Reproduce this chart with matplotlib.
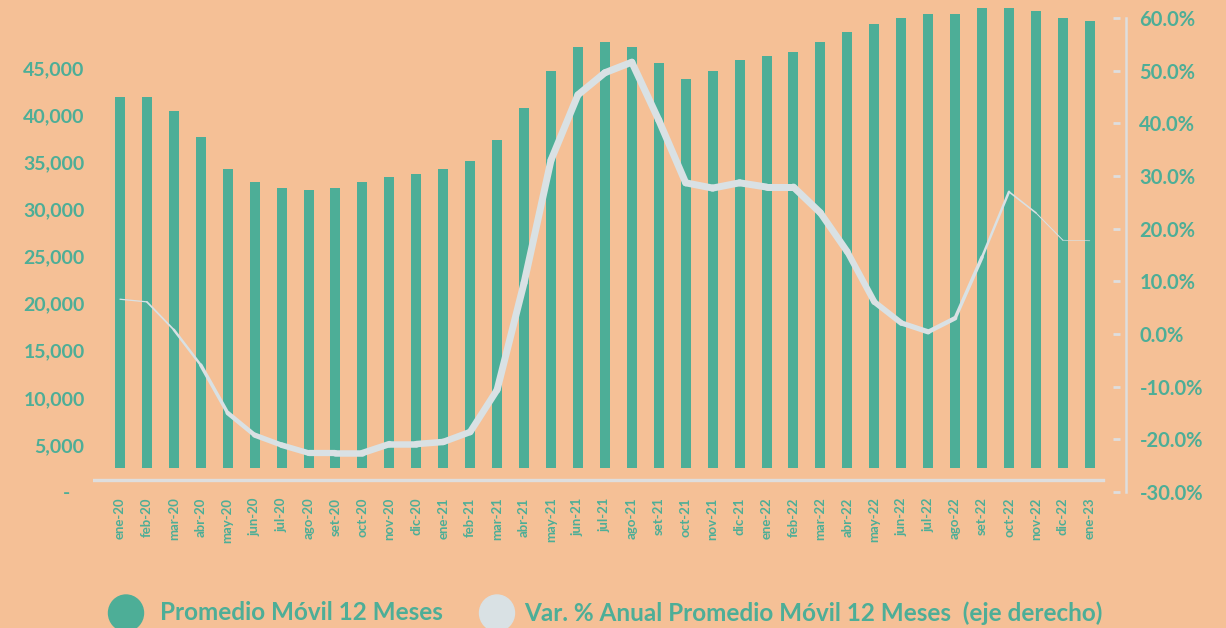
import numpy as np
import matplotlib.pyplot as plt
from matplotlib.collections import LineCollection
from matplotlib.patches import Ellipse
from matplotlib.ticker import FuncFormatter

# Monthly series, Jan-2020 to Jan-2023
months = ['ene-20', 'feb-20', 'mar-20', 'abr-20', 'may-20', 'jun-20', 'jul-20', 'ago-20',
          'set-20', 'oct-20', 'nov-20', 'dic-20', 'ene-21', 'feb-21', 'mar-21', 'abr-21',
          'may-21', 'jun-21', 'jul-21', 'ago-21', 'set-21', 'oct-21', 'nov-21', 'dic-21',
          'ene-22', 'feb-22', 'mar-22', 'abr-22', 'may-22', 'jun-22', 'jul-22', 'ago-22',
          'set-22', 'oct-22', 'nov-22', 'dic-22', 'ene-23']

promedio_movil = [41930, 41930, 40450, 37690, 34290, 32910, 32270, 32060,
                  32270, 32910, 33440, 33760, 34290, 35140, 37370, 40770,
                  44690, 47240, 47770, 47240, 45540, 43840, 44690, 45860,
                  46290, 46710, 47770, 48830, 49680, 50320, 50740, 50740,
                  51380, 51380, 51060, 50320, 50000]

var_anual = [6.6, 6.1, 0.8, -5.9, -15.0, -19.2, -21.1, -22.6,
             -22.6, -22.6, -20.9, -20.9, -20.5, -18.6, -10.6, 9.7,
             33.0, 45.4, 49.6, 51.6, 40.6, 28.7, 27.7, 28.7,
             27.9, 27.9, 23.0, 15.6, 6.1, 2.1, 0.4, 3.0,
             14.6, 27.0, 23.0, 17.8, 17.7]

left_ticks = [0, 5000, 10000, 15000, 20000, 25000, 30000, 35000, 40000, 45000]
right_ticks = [-30, -20, -10, 0, 10, 20, 30, 40, 50, 60]

BG = '#F5C096'
TEAL = '#4DAE97'
LINE = '#D9E1E4'
AXIS = '#DEDEDE'

plt.rcParams['font.family'] = ['Lato', 'DejaVu Sans']

fig = plt.figure(figsize=(12.26, 6.28), dpi=100, facecolor=BG)
W, H = 1226, 628
ax = fig.add_axes([93 / W, (H - 492) / H, (1120 - 93) / W, 492 / H])
ax.set_facecolor('none')
ax2 = ax.twinx()

x = np.arange(len(months))
bar_base = 2500
ax.bar(x, np.array(promedio_movil) - bar_base, bottom=bar_base, width=0.37,
       color=TEAL, zorder=2)
ax.set_xlim(-1.0, 37.12)
ax.set_ylim(0, 52230)

# baseline under the bars
ax.axhline(1270, xmin=0, xmax=0.983, color=AXIS, lw=2.4, zorder=1)

ax.set_xticks(x)
ax.set_xticklabels(months, rotation=90, fontsize=9.5, fontweight='bold', color=TEAL)
ax.tick_params(axis='x', length=0, pad=4)
ax.set_yticks(left_ticks)
ax.yaxis.set_major_formatter(FuncFormatter(lambda v, p: '-   ' if v == 0 else f'{v:,.0f}'))
ax.tick_params(axis='y', length=0, pad=6, labelsize=14, labelcolor=TEAL)
for t in ax.get_yticklabels():
    t.set_fontweight('bold')
for s in ax.spines.values():
    s.set_visible(False)

# right axis: tapered line for the annual variation
ax2.set_ylim(-30, 63.41)
pts = np.column_stack([x, var_anual])
segs = np.stack([pts[:-1], pts[1:]], axis=1)
width_px = np.array([1, 1.5, 2, 3, 4, 5, 5.5, 6, 6.5, 6.5, 6.5, 6.5, 6.5, 6.5, 7, 7,
                     7, 7, 7, 7, 7, 7, 7, 7, 7, 7, 7, 6.5, 6, 5.5, 5, 4, 3, 2, 1.2, 0.8, 0.5])
seg_w = (width_px[:-1] + width_px[1:]) / 2 * 0.72
lc = LineCollection(segs, linewidths=seg_w, colors=LINE, capstyle='round',
                    joinstyle='round', zorder=3)
ax2.add_collection(lc)

ax2.set_yticks(right_ticks)
ax2.yaxis.set_major_formatter(FuncFormatter(lambda v, p: f'{v:.1f}%'))
ax2.tick_params(axis='y', direction='in', length=5, width=2, color=AXIS,
                pad=14, labelsize=14.5, labelcolor=TEAL)
for t in ax2.get_yticklabels():
    t.set_fontweight('bold')
for s in ax2.spines.values():
    s.set_visible(False)
ax2.plot([1.0055, 1.0055], [-30, 60], color=AXIS, lw=1.8, clip_on=False,
         transform=ax2.get_yaxis_transform())

# legend
fig.patches.append(Ellipse((126 / W, (H - 613) / H), 35 / W, 36 / H,
                           transform=fig.transFigure, color=TEAL))
fig.patches.append(Ellipse((497 / W, (H - 613) / H), 35 / W, 36 / H,
                           transform=fig.transFigure, color=LINE))
fig.text(160 / W, (H - 613) / H, 'Promedio Móvil 12 Meses', fontsize=17.5,
         fontweight='bold', color=TEAL, va='center', ha='left')
fig.text(524 / W, (H - 613) / H, 'Var. % Anual Promedio Móvil 12 Meses  (eje derecho)',
         fontsize=17.5, fontweight='bold', color=TEAL, va='center', ha='left')

fig.savefig('out.png', dpi=100, facecolor=BG)
